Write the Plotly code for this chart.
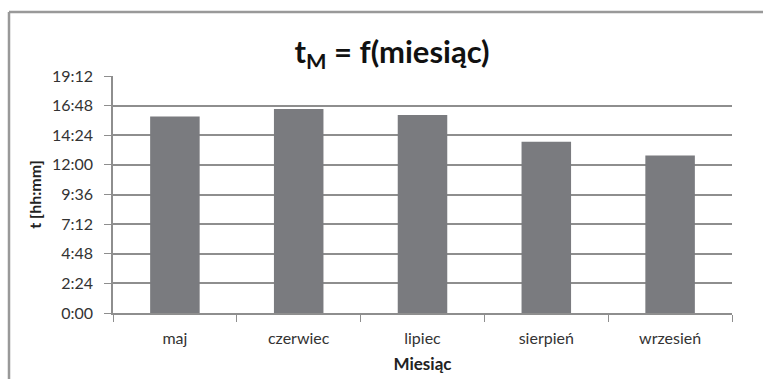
import plotly.graph_objects as go

months = ["maj", "czerwiec", "lipiec", "sierpień", "wrzesień"]
durations = ["15:55", "16:32", "16:03", "13:53", "12:45"]
tick_labels = ["0:00", "2:24", "4:48", "7:12", "9:36", "12:00", "14:24", "16:48", "19:12"]

def to_min(s):
    h, m = s.split(":")
    return int(h) * 60 + int(m)

values = [to_min(d) for d in durations]
tick_vals = [to_min(t) for t in tick_labels]

W, H = 763, 379
L, R, T, B = 113, 31, 76, 66
pw, ph = W - L - R, H - T - B

def px_x(x):
    return (x - L) / pw

def px_y(y):
    return (H - B - y) / ph

fig = go.Figure(go.Bar(x=months, y=values, marker=dict(color="#7a7b7f", line=dict(width=0)),
                       width=0.4, hoverinfo="x+y"))

grid = "#8e8e8e"
fig.update_layout(
    width=W, height=H,
    margin=dict(l=L, r=R, t=T, b=B, autoexpand=False),
    paper_bgcolor="white", plot_bgcolor="white",
    font=dict(family="Lato, sans-serif", color="#333333", size=16),
    title=dict(text="<b>t<sub>M</sub> = f(miesiąc)</b>", x=392 / W, xanchor="center",
               y=(H - 52) / H, yanchor="middle", yref="container",
               font=dict(size=31, color="#111111")),
    showlegend=False,
    bargap=0.6,
    xaxis=dict(showline=True, linecolor=grid, linewidth=1.5, ticks="outside", tickson="boundaries",
               ticklen=7, tickcolor=grid, tickwidth=1, showgrid=False, ticklabelstandoff=10,
               automargin=False,
               title=dict(text="<b>Miesiąc</b>", standoff=12, font=dict(size=17, color="#222222")),
               tickfont=dict(size=16, color="#333333")),
    yaxis=dict(range=[0, 1152], tickvals=tick_vals, ticktext=tick_labels,
               showgrid=True, gridcolor=grid, gridwidth=1.5,
               showline=True, linecolor=grid, linewidth=1.5, ticks="outside", ticklen=7,
               tickcolor=grid, zeroline=False, ticklabelstandoff=8, automargin=False,
               title=dict(text="<b>t [hh:mm]</b>", standoff=6, font=dict(size=16, color="#222222")),
               tickfont=dict(size=16, color="#333333")),
    shapes=[
        dict(type="line", xref="paper", yref="paper", x0=px_x(9), x1=px_x(W + 5),
             y0=px_y(12), y1=px_y(12), line=dict(color="#999999", width=2.5)),
        dict(type="line", xref="paper", yref="paper", x0=px_x(9), x1=px_x(9),
             y0=px_y(12), y1=px_y(H + 5), line=dict(color="#999999", width=2.5)),
    ],
)

fig.write_html("out.html", config={"displayModeBar": False},
               post_script="document.body.style.margin='0';document.body.style.overflow='hidden';")
